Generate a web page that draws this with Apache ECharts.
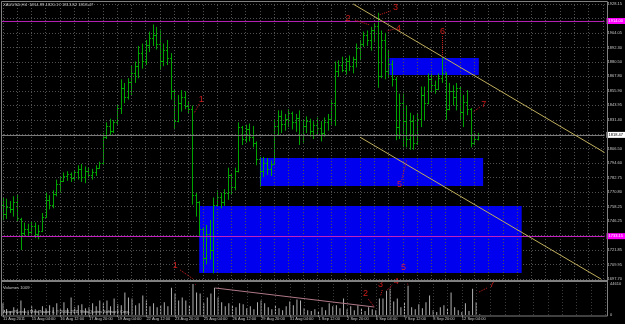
<!DOCTYPE html>
<html><head><meta charset="utf-8">
<script src="https://cdn.jsdelivr.net/npm/echarts@6/dist/echarts.min.js"></script>
<style>html,body{margin:0;padding:0;background:#000;}#c{width:625px;height:324px;}</style>
</head><body><div id="c"></div>
<script>
// ---- data (XAUUSD, H4) ----
const xTickLabels = ["11 Aug 2011","15 Aug 04:00","16 Aug 12:00","17 Aug 20:00","19 Aug 04:00","22 Aug 12:00","23 Aug 20:00","25 Aug 04:00","26 Aug 12:00","29 Aug 20:00","31 Aug 04:00","1 Sep 12:00","2 Sep 20:00","6 Sep 04:00","7 Sep 12:00","8 Sep 20:00","12 Sep 04:00"];
const opens  = [1760,1752,1758,1756,1762,1748,1736,1740,1737,1742,1735,1738,1750,1764,1760,1769,1777,1780,1784,1786,1782,1787,1790,1783,1788,1785,1787,1791,1795,1817,1826,1822,1829,1841,1858,1850,1863,1870,1876,1887,1880,1894,1900,1902,1895,1880,1890,1883,1855,1830,1845,1850,1843,1840,1768,1762,1740,1715,1735,1722,1760,1766,1762,1770,1785,1775,1788,1825,1815,1823,1817,1812,1798,1788,1795,1790,1794,1826,1834,1828,1832,1837,1829,1833,1818,1826,1830,1822,1827,1824,1820,1829,1832,1845,1872,1877,1873,1880,1876,1882,1891,1895,1902,1898,1906,1910,1868,1898,1872,1878,1865,1825,1845,1830,1815,1830,1812,1832,1852,1845,1865,1860,1857,1866,1870,1840,1855,1850,1858,1838,1846,1840,1812,1814.99];
const highs  = [1766,1765,1763,1767,1768,1749,1745,1744,1746,1745,1743,1753,1770,1768,1772,1781,1784,1787,1788,1787,1789,1793,1794,1792,1791,1790,1793,1796,1820,1829,1832,1831,1844,1865,1862,1866,1877,1880,1893,1895,1898,1905,1911,1909,1906,1895,1898,1887,1857,1852,1856,1855,1847,1843,1770,1763,1741,1743,1747,1766,1772,1770,1773,1791,1786,1791,1829,1826,1827,1828,1826,1813,1800,1800,1799,1797,1831,1839,1839,1836,1840,1838,1836,1839,1831,1834,1832,1830,1833,1830,1833,1836,1848,1880,1881,1884,1883,1885,1884,1895,1898,1905,1906,1909,1912,1920.8,1906,1904,1890,1881,1867,1853,1853,1843,1837,1835,1837,1859,1859,1870,1870,1864,1870,1884,1871,1862,1860,1862,1859,1852,1856,1841,1820,1820.17];
const lows   = [1747,1748,1753,1750,1746,1722,1734,1733,1735,1732,1731,1737,1749,1756,1757,1767,1770,1779,1780,1779,1780,1781,1779,1778,1783,1781,1784,1790,1793,1815,1818,1820,1827,1836,1845,1848,1852,1862,1866,1874,1877,1888,1893,1890,1873,1876,1877,1848,1823,1829,1838,1840,1836,1760,1750,1733,1703,1710,1714,1702.5,1758,1757,1759,1764,1768,1772,1787,1810,1812,1813,1808,1793,1775,1783,1785,1784,1793,1818,1820,1822,1825,1823,1821,1810,1812,1820,1817,1815,1819,1813,1817,1822,1827,1826,1867,1871,1869,1872,1870,1875,1881,1892,1893,1889,1896,1858,1866,1865,1866,1859,1814,1815,1808,1808,1806,1806,1810,1825,1831,1844,1854,1853,1856,1862,1831,1839,1843,1839,1831,1825,1835,1808,1810,1813.82];
const closes = [1752,1758,1756,1762,1749,1736,1740,1737,1742,1735,1738,1750,1764,1760,1769,1777,1780,1784,1786,1782,1787,1790,1783,1788,1785,1787,1791,1795,1817,1826,1822,1829,1841,1858,1850,1863,1870,1876,1887,1880,1894,1900,1902,1895,1880,1890,1883,1855,1830,1845,1850,1843,1840,1768,1762,1740,1715,1735,1722,1760,1766,1762,1770,1785,1775,1788,1825,1815,1823,1817,1812,1798,1788,1795,1790,1794,1826,1834,1828,1832,1837,1829,1833,1818,1826,1830,1822,1827,1824,1820,1829,1832,1845,1872,1877,1873,1880,1876,1882,1891,1895,1902,1898,1906,1910,1868,1898,1872,1878,1865,1825,1845,1830,1815,1830,1812,1832,1852,1845,1865,1860,1857,1866,1870,1840,1855,1850,1858,1838,1846,1840,1812,1815,1818.47];
const volumes = [16800,8500,5600,11200,8400,21000,9800,7000,12600,8400,7000,12600,9800,14000,11200,16800,8400,18200,9800,25200,11200,14000,15400,9800,11200,16800,12600,21000,16800,21000,12600,23800,15400,14000,32200,25200,23800,14000,16800,28000,21000,12600,16800,11200,14000,18200,12600,39200,30800,21000,25200,21000,14000,44610,32200,30800,16800,25200,30800,39200,25200,18200,12600,16800,14000,11200,16800,15400,9800,12600,8400,18200,21000,16800,11200,8400,14000,9800,7000,12600,19600,14000,22400,21000,9800,7000,5600,8400,4200,11200,7000,16800,12600,14000,9800,23800,8400,12600,7000,14000,9800,5600,11200,8400,7000,23800,23800,35000,37800,19600,23800,11200,18200,42000,11200,8400,15400,9800,18200,28000,7000,4200,11200,14000,9800,32200,11200,7000,4200,16800,5600,37800,18200,1009];
const yTickLabels = ["1697.70","1709.95","1721.85","","1746.25","1758.25","1770.80","1782.75","1794.60","1806.50","","1831.40","1843.95","1855.90","1867.80","1880.50","1892.30","1904.05","","1928.15"];
// zones: [fromBar, topPrice, toBar, bottomPrice]
const zoneRects = [[55,1758.9,145.3,1702.7],[72,1799.1,134.5,1775.6],[108.3,1882.9,133.3,1868.6]];
// trend lines: [bar1, price1, bar2, price2]
const trendLines = [[98.1,1928.15,168.5,1803.7],[100,1816.6,167.5,1697.7]];
const levelMagenta = [1913.9, 1733.6];
const levelMagentaText = ["1914.00","1733.15"];
const lastPrice = 1818.47;
// annotations in price pane: [bar, price, text]
const priceNotes = [[55.6,1847.7,"1"],[96.7,1916.4,"2"],[110,1925.6,"3"],[110.8,1908.0,"4"],[123.1,1905.5,"6"],[134.7,1843.5,"7"],[111.1,1776.5,"5"],[48.3,1708.6,"1"],[112.2,1707.3,"5"]];
const pricePointers = [[55.0,1844.4,53.6,1836.8],[98.6,1914.7,102.8,1910.5],[108.6,1922.3,105.3,1918.9],[109.7,1907.2,107.5,1905.5],[123.1,1901.3,123.1,1883.7],[133.6,1841.8,131.7,1837.6],[111.7,1780.7,113.1,1797.4],[49.7,1705.2,53.3,1697.7]];
// annotations in volume pane: [bar, volume, text]
const volNotes = [[101.1,30200,"2"],[105.3,43170,"3"],[109.7,47500,"4"],[136.4,43170,"7"]];
const volPointers = [[101.9,23000,103.6,11500],[105.8,36000,105.3,27300],[108.6,43170,107.2,36000],[135,38850,132.8,33100],[112.8,44610,113.3,43200],[53.6,44610,53.6,44000]];
const volTrend = [[59.2,38850,103.6,11500]];

// ---- chart ----
const FONT = 'Liberation Sans';
const TXT = '#c8c8c8';
const RED = '#ff2222';
const yMin = 1697.70, yMax = 1928.15, yStep = (yMax - yMin) / 19;
const xMax = 168.5;
const ohlc = opens.map((o, i) => [i, o, highs[i], lows[i], closes[i]]);
const volData = volumes.map((v, i) => [i, v]);
const xTickIdx = xTickLabels.map((_, k) => k * 8);
const vGrid = []; for (let i = 0; i <= 168; i += 4) vGrid.push({xAxis: i});

function renderOHLC(params, api) {
  const i = api.value(0);
  const h = api.coord([i, api.value(2)]), l = api.coord([i, api.value(3)]);
  const o = api.coord([i, api.value(1)]), c = api.coord([i, api.value(4)]);
  const x = Math.round(h[0]) + 0.5;
  const st = {stroke: '#00a400', lineWidth: 1};
  const oy = Math.round(o[1]) + 0.5, cy = Math.round(c[1]) + 0.5;
  return {type: 'group', children: [
    {type: 'line', shape: {x1: x, y1: h[1], x2: x, y2: l[1]}, style: st},
    {type: 'line', shape: {x1: x - 1.5, y1: oy, x2: x, y2: oy}, style: st},
    {type: 'line', shape: {x1: x, y1: cy, x2: x + 1.5, y2: cy}, style: st}
  ]};
}
const seg = (a, color, type) => [{coord: [a[0], a[1]], lineStyle: {color: color, type: type, width: 1}}, {coord: [a[2], a[3]]}];

const chart = echarts.init(document.getElementById('c'), null, {renderer: 'canvas'});
chart.setOption({
  backgroundColor: '#000000',
  animation: false,
  grid: [
    {left: 1, right: 18, top: 4, height: 275},
    {left: 1, right: 18, top: 284, height: 31}
  ],
  xAxis: [
    {type: 'value', gridIndex: 0, min: -0.5, max: xMax, axisLine: {show: false}, axisTick: {show: false}, axisLabel: {show: false}, splitLine: {show: false}},
    {type: 'value', gridIndex: 1, min: -0.5, max: xMax, axisLine: {show: false},
     axisTick: {show: true, customValues: xTickIdx, length: 2, lineStyle: {color: '#808080'}},
     axisLabel: {customValues: xTickIdx, align: 'left', margin: 2, color: TXT, fontSize: 4, fontFamily: FONT,
       formatter: v => xTickLabels[Math.round(v / 8)] || ''},
     splitLine: {show: false}}
  ],
  yAxis: [
    {type: 'value', gridIndex: 0, position: 'right', min: yMin, max: yMax, interval: yStep,
     axisLine: {show: false}, axisTick: {show: false},
     axisLabel: {color: TXT, fontSize: 4, fontFamily: FONT, margin: 3, align: 'left', showMinLabel: true, showMaxLabel: true,
       formatter: v => { const k = Math.round((v - yMin) / yStep); return yTickLabels[k] || ''; }},
     splitLine: {show: true, lineStyle: {color: '#505050', type: [1, 2], width: 1}}},
    {type: 'value', gridIndex: 1, position: 'right', min: 0, max: 44610, interval: 44610,
     axisLine: {show: false}, axisTick: {show: false},
     axisLabel: {color: TXT, fontSize: 4, fontFamily: FONT, margin: 3, align: 'left', showMinLabel: true, showMaxLabel: true,
       formatter: v => String(Math.round(v))},
     splitLine: {show: false}}
  ],
  series: [
    {type: 'line', xAxisIndex: 0, yAxisIndex: 0, data: [], z: 0, silent: true,
     markLine: {silent: true, symbol: ['none', 'none'], label: {show: false},
       lineStyle: {color: '#505050', type: [1, 2], width: 1}, data: vGrid}},
    {type: 'line', xAxisIndex: 1, yAxisIndex: 1, data: [], z: 0, silent: true,
     markLine: {silent: true, symbol: ['none', 'none'], label: {show: false},
       lineStyle: {color: '#3a3a3a', type: [1, 2], width: 1}, data: vGrid}},
    {type: 'line', xAxisIndex: 0, yAxisIndex: 0, data: [], z: 1, silent: true,
     markArea: {silent: true, itemStyle: {color: '#0000ee', opacity: 1},
       data: zoneRects.map(r => [{coord: [r[0], r[1]]}, {coord: [r[2], r[3]]}])}},
    {type: 'line', xAxisIndex: 0, yAxisIndex: 0, data: [], z: 2, silent: true,
     markLine: {silent: true, symbol: ['none', 'none'], animation: false,
       data: [
         {yAxis: levelMagenta[0], lineStyle: {color: '#b020b0', type: 'solid', width: 1},
          label: {show: true, position: 'end', distance: 2, formatter: levelMagentaText[0], color: '#ffffff', backgroundColor: '#ff00ff', fontSize: 4, fontFamily: FONT, padding: [1, 2]}},
         {yAxis: levelMagenta[1], lineStyle: {color: '#c020c0', type: 'solid', width: 1},
          label: {show: true, position: 'end', distance: 2, formatter: levelMagentaText[1], color: '#ffffff', backgroundColor: '#ff00ff', fontSize: 4, fontFamily: FONT, padding: [1, 2]}},
         {yAxis: lastPrice, lineStyle: {color: '#7a7a7a', type: 'solid', width: 1},
          label: {show: true, position: 'end', distance: 2, formatter: lastPrice.toFixed(2), color: '#000000', backgroundColor: '#ffffff', fontSize: 4, fontFamily: FONT, padding: [1, 2]}}
       ]}},
    {type: 'custom', name: 'XAUUSD', xAxisIndex: 0, yAxisIndex: 0, z: 3, renderItem: renderOHLC,
     encode: {x: 0, y: [1, 2, 3, 4]}, data: ohlc, clip: true},
    {type: 'bar', xAxisIndex: 1, yAxisIndex: 1, data: volData, barWidth: 1, z: 3,
     itemStyle: {color: '#b0b0b0'}},
    {type: 'line', xAxisIndex: 0, yAxisIndex: 0, data: [], z: 4, silent: true,
     markLine: {silent: true, symbol: ['none', 'none'], label: {show: false},
       data: trendLines.map(t => seg(t, '#bfae5c', 'solid')).concat(pricePointers.map(t => seg(t, '#d02020', [1, 1])))}},
    {type: 'line', xAxisIndex: 1, yAxisIndex: 1, data: [], z: 4, silent: true,
     markLine: {silent: true, symbol: ['none', 'none'], label: {show: false},
       data: volTrend.map(t => seg(t, '#b07888', 'solid')).concat(volPointers.map(t => seg(t, '#d02020', [1, 1])))}},
    {type: 'scatter', xAxisIndex: 0, yAxisIndex: 0, z: 5, symbolSize: 0, clip: false, silent: true,
     data: priceNotes.map(n => ({value: [n[0], n[1]], name: n[2]})),
     label: {show: true, position: 'inside', formatter: p => p.name, color: RED, fontSize: 9, fontFamily: FONT}},
    {type: 'scatter', xAxisIndex: 1, yAxisIndex: 1, z: 5, symbolSize: 0, clip: false, silent: true,
     data: volNotes.map(n => ({value: [n[0], n[1]], name: n[2]})),
     label: {show: true, position: 'inside', formatter: p => p.name, color: RED, fontSize: 9, fontFamily: FONT}}
  ],
  graphic: [
    {type: 'rect', silent: true, z: 10, shape: {x: 1.5, y: 1.5, width: 606, height: 314.5}, style: {fill: null, stroke: '#808080', lineWidth: 1}},
    {type: 'line', silent: true, z: 10, shape: {x1: 1, y1: 281, x2: 607, y2: 281}, style: {stroke: '#808080', lineWidth: 2}},
    {type: 'text', silent: true, z: 11, left: 3, top: 3, style: {text: 'XAUUSD,H4  1814.99 1820.17 1813.82 1818.47', fill: TXT, fontSize: 4.2, fontFamily: FONT}},
    {type: 'text', silent: true, z: 11, left: 3, top: 286, style: {text: 'Volumes 1009', fill: TXT, fontSize: 4.2, fontFamily: FONT}},
    {type: 'text', silent: true, z: 11, left: 3, top: 310, style: {text: 'Alpari Russia - MetaTrader 4, \u00a9 2001-2011 MetaQuotes Software Corp.', fill: TXT, fontSize: 4, fontFamily: FONT}}
  ]
});
</script>
</body></html>
